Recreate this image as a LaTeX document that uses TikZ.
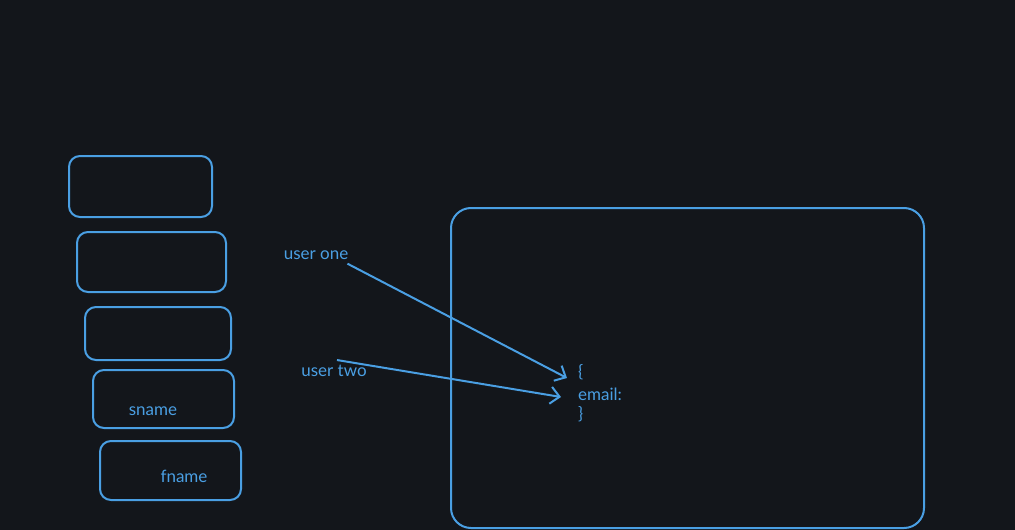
\documentclass[tikz,border=0pt]{standalone}
\usepackage{fontspec}
\setmainfont{Lato}
\usepackage{tikz}
\usetikzlibrary{positioning}
\usetikzlibrary{arrows.meta}
\definecolor{bg}{HTML}{13161B}
\definecolor{sky}{HTML}{4A9FE3}
\tikzset{
	field/.style={draw=sky,line width=2pt,rounded corners=11pt,inner sep=0pt,outer sep=0pt},
	txt/.style={text=sky,font=\fontsize{17}{19}\selectfont,inner sep=0pt},
	arr/.style={draw=sky,line width=2pt,-{Straight Barb[length=9pt,width=17pt,line width=2pt]}}
}
\begin{document}
\begin{tikzpicture}[x=1pt,y=-1pt]
			
			\fill[bg] (0,0) rectangle (1015,530);
			\useasboundingbox (0,0) rectangle (1015,530);
			
			\node[field,minimum width=143pt,minimum height=61pt] (B1) at (140.5,186.5) {};
			\node[field,minimum width=149pt,minimum height=60pt] (B2) at (151.5,262) {};
			\node[field,minimum width=146pt,minimum height=53pt] (B3) at (158,333.5) {};
			\node[field,minimum width=141pt,minimum height=58pt] (B4) at (163.5,399) {};
			\node[field,minimum width=141pt,minimum height=59pt] (B5) at (170.5,470.5) {};
			
			\node[txt] (SN) at (153,411) {sname};
			\node[txt] (FN) at (184,476) {fname};
			
			\node[field,rounded corners=20pt,minimum width=473pt,minimum height=320pt] (DB) at (687.5,368) {};
			
			\node[txt,anchor=west] (LB) at (578,372) {\{};
			\node[txt,anchor=west] (EM) at (578,394) {email:};
			\node[txt,anchor=west] (RB) at (578,414) {\}};
			
			\node[txt] (U1) at (316,255) {user one};
			\node[txt] (U2) at (334,371) {user two};
			
			\coordinate (T1) at (567,378);
			\coordinate (T2) at (561,397);
			
			\draw[arr] ([shift={(-1pt,-4pt)}]U1.south east) -- (T1);
			\draw[arr] ([shift={(3pt,5pt)}]U2.north) -- (T2);
			
		\end{tikzpicture}
\end{document}
